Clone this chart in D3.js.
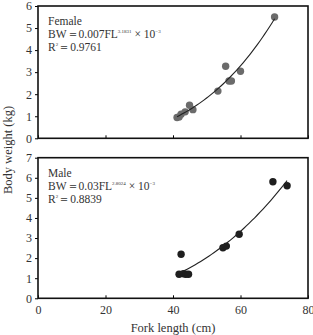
<!DOCTYPE html>
<html>
  <head>
    <script src="https://cdn.jsdelivr.net/npm/d3@7"></script>
    <style>
      body { margin: 0; background: #fff; }
      svg { font-family: "Liberation Serif", "Times New Roman", serif; }
    </style>
  </head>
  <body>
    <script>
    // female: fork length (cm) / body weight (kg)
    var femaleFL = [41.2, 41.8, 42.4, 43.6, 44.9, 45.9, 53.3, 55.6, 56.6, 57.3, 60.0, 70.1];
    var femaleBW = [0.94, 0.97, 1.09, 1.2, 1.5, 1.3, 2.14, 3.27, 2.6, 2.6, 3.04, 5.5];
    // male
    var maleFL = [41.8, 42.4, 43.1, 43.8, 44.6, 54.8, 55.8, 59.6, 69.6, 73.8];
    var maleBW = [1.2, 2.19, 1.22, 1.2, 1.2, 2.52, 2.6, 3.19, 5.8, 5.6];

    var xTicks = [0, 20, 40, 60, 80];
    var topTicks = [0, 1, 2, 3, 4, 5, 6];
    var botTicks = [0, 1, 2, 3, 4, 5, 6, 7];

    var W = 313, H = 335;
    var left = 38, right = 308;

    var svg = d3.select("body").append("svg")
      .attr("width", W).attr("height", H);

    var x = d3.scaleLinear().domain([0, 80]).range([left, right]);

    // power fit on log-log, like a spreadsheet trendline
    function powerFit(xs, ys) {
      var lx = xs.map(Math.log), ly = ys.map(Math.log);
      var mx = d3.mean(lx), my = d3.mean(ly);
      var num = 0, den = 0;
      for (var i = 0; i < lx.length; i++) {
        num += (lx[i] - mx) * (ly[i] - my);
        den += (lx[i] - mx) * (lx[i] - mx);
      }
      var b = num / den;
      var a = Math.exp(my - b * mx);
      return function (v) { return a * Math.pow(v, b); };
    }

    function styleAxis(s) {
      s.attr("font-family", null);
      s.select(".domain").remove();
      s.selectAll("line").attr("stroke", "#000");
      s.selectAll("text").attr("font-size", 12).attr("fill", "#333");
    }

    function panel(top, bottom, yMax, ticks, fl, bw, color, showX, lines) {
      var y = d3.scaleLinear().domain([0, yMax]).range([bottom, top]);
      var g = svg.append("g");

      g.append("g")
        .attr("transform", "translate(" + left + ",0)")
        .call(d3.axisLeft(y).tickValues(ticks).tickSize(3).tickPadding(3)
          .tickFormat(d3.format("d")))
        .call(styleAxis);

      g.append("g")
        .attr("transform", "translate(0," + bottom + ")")
        .call(d3.axisBottom(x).tickValues(xTicks).tickSize(-3).tickPadding(7)
          .tickFormat(showX ? d3.format("d") : ""))
        .call(styleAxis);

      g.append("rect")
        .attr("x", left).attr("y", top)
        .attr("width", right - left).attr("height", bottom - top)
        .attr("fill", "none").attr("stroke", "#111").attr("stroke-width", 1.6);

      var pts = fl.map(function (d, i) { return [d, bw[i]]; });
      g.selectAll("circle").data(pts).enter().append("circle")
        .attr("cx", function (d) { return x(d[0]); })
        .attr("cy", function (d) { return y(d[1]); })
        .attr("r", 3.7)
        .attr("fill", color);

      var f = powerFit(fl, bw);
      var x0 = d3.min(fl), x1 = d3.max(fl);
      var cx = d3.range(0, 41).map(function (i) { return x0 + (x1 - x0) * i / 40; });
      g.append("path")
        .datum(cx)
        .attr("fill", "none").attr("stroke", "#222").attr("stroke-width", 1.1)
        .attr("d", d3.line().x(function (d) { return x(d); }).y(function (d) { return y(f(d)); }));

      var t = g.append("g").attr("font-size", 11.5).attr("fill", "#333");
      t.append("text").attr("x", 48).attr("y", top + 19).text(lines[0]);
      var eq = t.append("text").attr("x", 48).attr("y", top + 32);
      eq.append("tspan").text("BW＝" + lines[1] + "FL");
      eq.append("tspan").attr("font-size", 5).attr("dy", -5).text(lines[2]);
      eq.append("tspan").attr("dy", 5).text(" × 10");
      eq.append("tspan").attr("font-size", 5).attr("dy", -5).text("−3");
      var r2 = t.append("text").attr("x", 48).attr("y", top + 45);
      r2.append("tspan").text("R");
      r2.append("tspan").attr("font-size", 5).attr("dy", -5).text("2");
      r2.append("tspan").attr("dy", 5).text("＝" + lines[3]);
    }

    panel(6, 138.3, 6, topTicks, femaleFL, femaleBW, "#6b6b6b", false,
      ["Female", "0.007", "3.1831", "0.9761"]);
    panel(157.7, 298.3, 7, botTicks, maleFL, maleBW, "#1e1e1e", true,
      ["Male", "0.03", "2.8024", "0.8839"]);

    svg.append("text")
      .attr("x", (left + right) / 2).attr("y", 332)
      .attr("text-anchor", "middle").attr("font-size", 12.5).attr("fill", "#333")
      .text("Fork length (cm)");

    svg.append("text")
      .attr("transform", "translate(12,150) rotate(-90)")
      .attr("text-anchor", "middle").attr("font-size", 12.5).attr("fill", "#333")
      .text("Body weight (kg)");
    </script>
  </body>
</html>
